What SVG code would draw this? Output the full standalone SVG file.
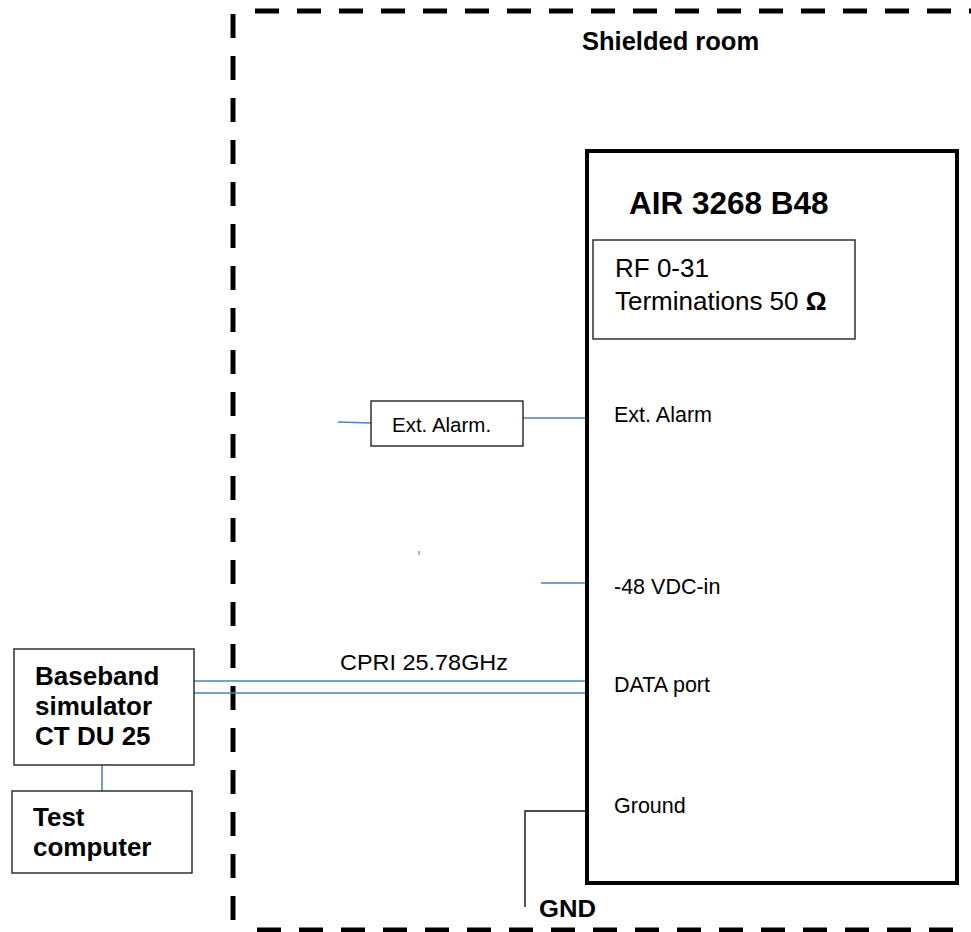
<svg xmlns="http://www.w3.org/2000/svg" width="971" height="932" viewBox="0 0 971 932">
<style>
.t{font-family:"Liberation Sans",Arial,sans-serif;fill:#000}
.b{font-weight:bold}
.box{fill:#fff;stroke:#222;stroke-width:1.4}
.dash{fill:none;stroke:#000;stroke-width:5;stroke-dasharray:24 18}
.blue{fill:none;stroke:#4f81bd;stroke-width:1.6}
.lbl{font-size:21.5px}
</style>
<rect width="971" height="932" fill="#fff"/>
<g id="shielded-room">
<path class="dash" d="M255 11H975"/>
<path class="dash" d="M233 14V921"/>
<path class="dash" d="M257 930H954"/>
<text class="t b" x="582" y="50" font-size="25.5">Shielded room</text>
</g>
<g id="connectors">
<path class="blue" d="M338 422L371 423"/>
<path class="blue" d="M523 418H587"/>
<path class="blue" d="M541 583H587"/>
<path class="blue" d="M194 681H587M194 693H587"/>
<path class="blue" d="M102 765V791"/>
<path d="M587 811H525V907" fill="none" stroke="#111" stroke-width="1.4"/>
<path d="M419 551V555" stroke="#666" stroke-width="1"/>
</g>
<g id="air">
<rect x="587" y="151" width="370" height="732" fill="#fff" stroke="#000" stroke-width="4"/>
<text class="t b" x="629" y="214" font-size="31.5">AIR 3268 B48</text>
<text class="t lbl" x="614" y="422">Ext. Alarm</text>
<text class="t lbl" x="614" y="594">-48 VDC-in</text>
<text class="t lbl" x="614" y="692">DATA port</text>
<text class="t lbl" x="614" y="813">Ground</text>
</g>
<g id="rf-terminations">
<rect class="box" x="593" y="240" width="262" height="99"/>
<text class="t" x="615" y="277" font-size="26">RF 0-31</text>
<text class="t" x="615" y="310" font-size="26">Terminations 50 <tspan class="b">Ω</tspan></text>
</g>
<g id="ext-alarm">
<rect class="box" x="371" y="401" width="152" height="45"/>
<text class="t" x="392" y="432" font-size="20.5">Ext. Alarm.</text>
</g>
<text class="t" x="340" y="670" font-size="22" textLength="168" lengthAdjust="spacingAndGlyphs">CPRI 25.78GHz</text>
<g id="baseband">
<rect class="box" x="14" y="649" width="180" height="116"/>
<text class="t b" x="35" y="685" font-size="26">Baseband</text>
<text class="t b" x="35" y="715" font-size="26">simulator</text>
<text class="t b" x="35" y="745" font-size="26">CT DU 25</text>
</g>
<g id="test-computer">
<rect class="box" x="12" y="791" width="180" height="82"/>
<text class="t b" x="33" y="826" font-size="26">Test</text>
<text class="t b" x="33" y="856" font-size="26">computer</text>
</g>
<g id="gnd">
<text class="t b" x="539" y="917" font-size="24" textLength="57" lengthAdjust="spacingAndGlyphs">GND</text>
</g>
</svg>
